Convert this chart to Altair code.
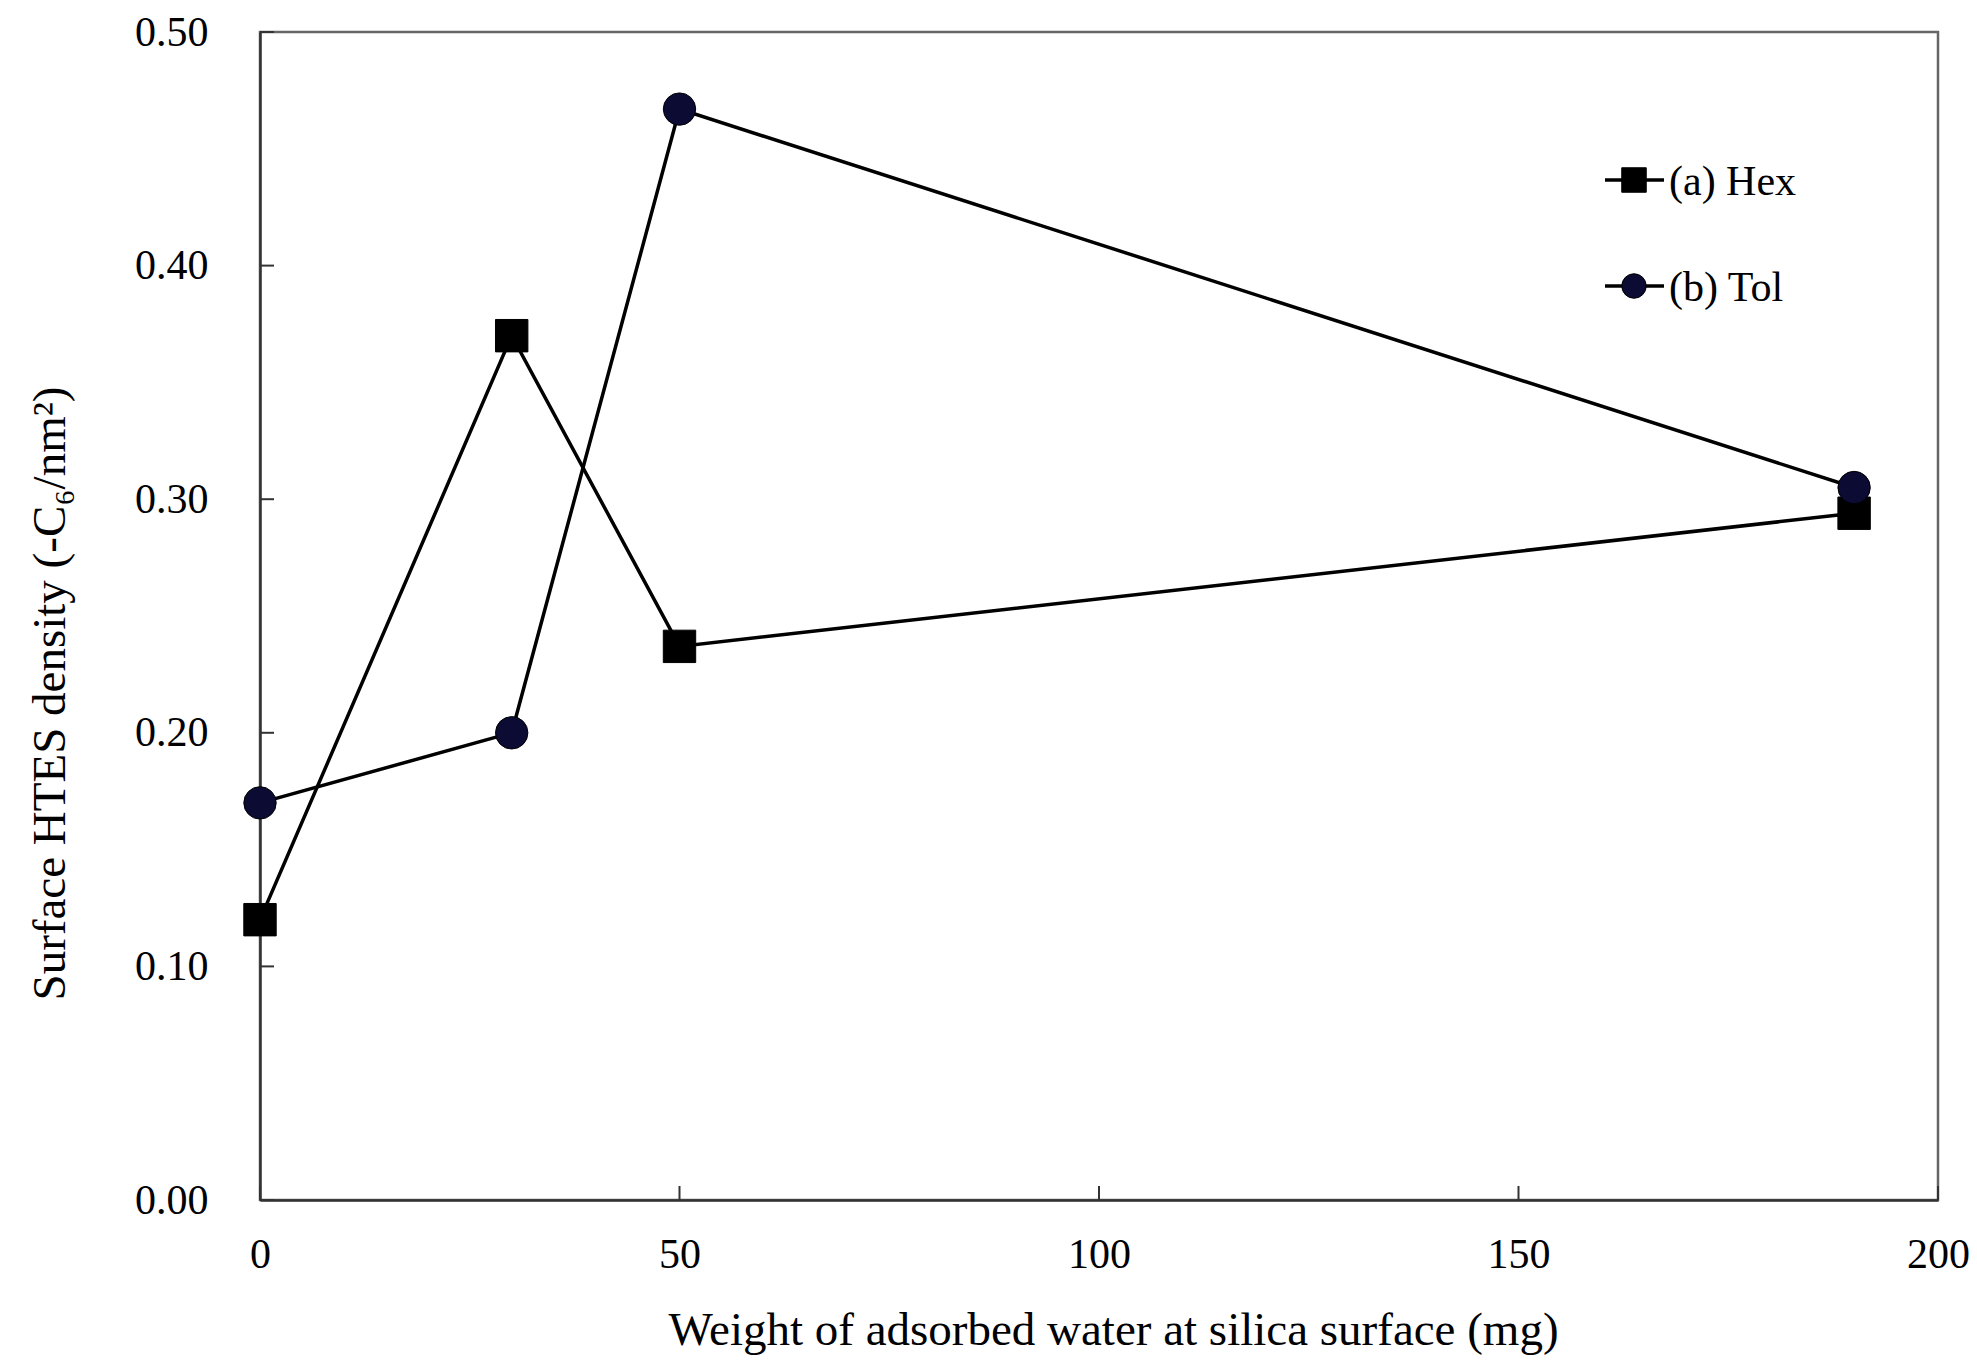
import altair as alt
import pandas as pd

# ---- data ----
x_vals = [0, 30, 50, 190]
hex_vals = [0.12, 0.37, 0.237, 0.294]
tol_vals = [0.17, 0.20, 0.467, 0.305]
series_names = ["(a) Hex", "(b) Tol"]
x_ticks = [0, 50, 100, 150, 200]
y_ticks = [0.0, 0.1, 0.2, 0.3, 0.4, 0.5]
x_title = "Weight of adsorbed water at silica surface (mg)"
y_title = "Surface HTES density (-C₆/nm²)"

df = pd.DataFrame({
    "x": x_vals + x_vals,
    "y": hex_vals + tol_vals,
    "series": [series_names[0]] * len(x_vals) + [series_names[1]] * len(x_vals),
})

W, H = 1678, 1168
FONT = "Liberation Serif"

xs = alt.Scale(domain=[0, 200], nice=False, zero=False)
ys = alt.Scale(domain=[0, 0.5], nice=False)

shape_scale = alt.Scale(domain=series_names, range=["square", "circle"])
fill_scale = alt.Scale(domain=series_names, range=["#000000", "#0b0b33"])

x_axis = alt.Axis(values=x_ticks, ticks=False, grid=False, labelFlush=False,
                  labelPadding=34, labelFontSize=42, labelFont=FONT, labelColor="black",
                  titleFontSize=47, titleFont=FONT, titleColor="black", titleFontWeight="normal",
                  titlePadding=32, titleX=853, domainColor="#333333", domainWidth=2.5, format="d")
y_axis = alt.Axis(values=y_ticks, ticks=False, grid=False, labelFlush=False,
                  labelPadding=52, labelFontSize=42, labelFont=FONT, labelColor="black",
                  titleFontSize=47, titleFont=FONT, titleColor="black", titleFontWeight="normal",
                  titlePadding=60, titleY=661, domainColor="#333333", domainWidth=2.5, format=".2f")


def X(field):
    return alt.X(field, scale=xs, axis=x_axis, title=x_title)


def Y(field):
    return alt.Y(field, scale=ys, axis=y_axis, title=y_title)


base = alt.Chart(df)

lines = base.mark_line(color="black", strokeWidth=3.5).encode(
    x=X("x:Q"), y=Y("y:Q"), detail="series:N",
)

points = base.mark_point(filled=True, opacity=1, size=1050, stroke="black", strokeWidth=1).encode(
    x=X("x:Q"), y=Y("y:Q"),
    shape=alt.Shape("series:N", scale=shape_scale, legend=None),
    fill=alt.Fill("series:N", scale=fill_scale, legend=None),
)

# inward ticks
yt = alt.Chart(pd.DataFrame({"y": y_ticks})).mark_rule(color="#333333", strokeWidth=2).encode(
    y=Y("y:Q"), x=alt.value(0), x2=alt.value(14))
xt = alt.Chart(pd.DataFrame({"x": x_ticks})).mark_rule(color="#333333", strokeWidth=2).encode(
    x=X("x:Q"), y=alt.value(H), y2=alt.value(H - 14))

# legend (line + marker + label)
legend_layers = []
for i, name in enumerate(series_names):
    ly = 148 + i * 106
    ldf = pd.DataFrame({"series": [name]})
    lc = alt.Chart(ldf)
    legend_layers.append(lc.mark_rule(color="black", strokeWidth=3.5).encode(
        x=alt.value(1345), x2=alt.value(1404), y=alt.value(ly)))
    legend_layers.append(lc.mark_point(filled=True, opacity=1, size=600, stroke="black", strokeWidth=1).encode(
        x=alt.value(1374), y=alt.value(ly),
        shape=alt.Shape("series:N", scale=shape_scale, legend=None),
        fill=alt.Fill("series:N", scale=fill_scale, legend=None)))
    legend_layers.append(lc.mark_text(align="left", baseline="middle", fontSize=42, font=FONT, color="black").encode(
        x=alt.value(1409), y=alt.value(ly + 2), text="series:N"))

chart = alt.layer(lines, yt, xt, points, *legend_layers).properties(
    width=W, height=H,
    padding={"left": 252, "top": 24, "right": 31, "bottom": 155},
    autosize=alt.AutoSizeParams(type="none"),
    background="white",
).configure_view(stroke="#666666", strokeWidth=2.5)

chart.save("out.html", embed_options={"renderer": "svg", "actions": False})
